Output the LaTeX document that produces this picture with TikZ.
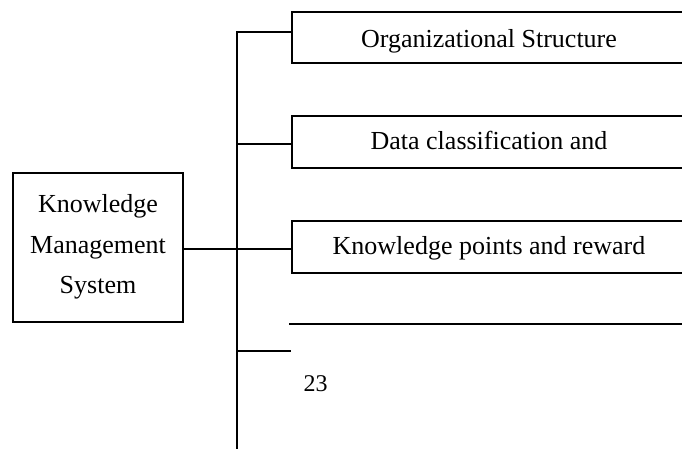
\documentclass[tikz,border=0pt]{standalone}
\usepackage{fontspec}
\setmainfont{Liberation Serif}
\begin{document}
\begin{tikzpicture}[x=1pt,y=-1pt,
  boxline/.style={draw=black,line width=2.2pt},
  conn/.style={draw=black,line width=1.8pt},
  itembox/.style={boxline,rectangle,minimum width=394pt,minimum height=51.5pt,inner sep=0pt,
     font=\fontsize{26}{30}\selectfont,text height=18pt,text depth=3.4pt},
  mainbox/.style={boxline,rectangle,minimum width=169.4pt,minimum height=149pt,inner sep=0pt,
     align=center,font=\fontsize{26}{40.5}\selectfont},
  numtext/.style={font=\fontsize{24}{28}\selectfont,inner sep=0pt,anchor=base}
]
\useasboundingbox (0,0) rectangle (682,448);
% boxes
\node[mainbox] (main) at (98,247.2) {Knowledge\\Management\\System};
\node[itembox,minimum height=51pt,text height=22pt,text depth=2.4pt] (b1) at (489,37.5) {Organizational Structure};
\node[itembox] (b2) at (489,142) {Data classification and};
\node[itembox] (b3) at (489,247) {Knowledge points and reward};
\node[numtext] (n23) at (315.7,391.7) {23};
% spine coordinates
\coordinate (c1) at (236.7,32.3);
\coordinate (c2) at (236.7,144.3);
\coordinate (c3) at (236.7,249);
\coordinate (c4) at (236.7,350.7);
\coordinate (cend) at (236.7,452);
\coordinate (s4) at (291,350.7);
\coordinate (h1) at (289,324.3);
\coordinate (h2) at (690,324.3);
% connectors
\draw[conn] (c1 -| b1.west) -- (c1) -- (cend);
\draw[conn] (c2) -- (c2 -| b2.west);
\draw[conn] (c3 -| main.east) -- (c3 -| b3.west);
\draw[conn] (c4) -- (s4);
\draw[conn] (h1) -- (h2);
\end{tikzpicture}
\end{document}
